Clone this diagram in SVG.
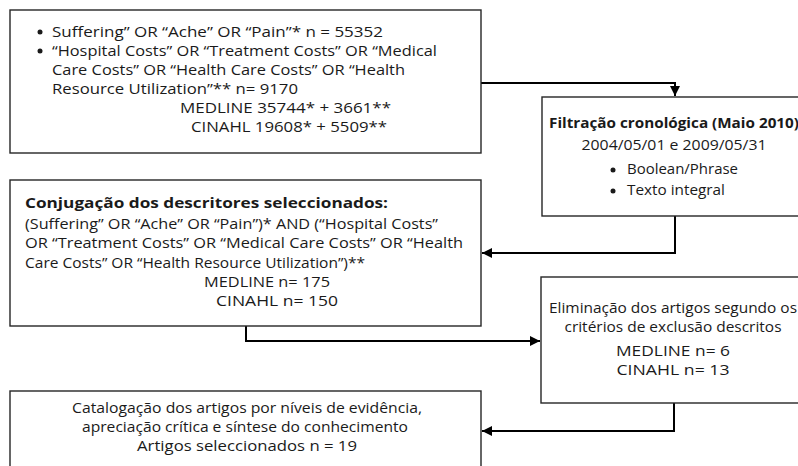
<svg xmlns="http://www.w3.org/2000/svg" width="798" height="466" viewBox="0 0 798 466">
<style>
  .box { fill: #ffffff; stroke: #262626; stroke-width: 1.4; }
  .t { font-family: "Open Sans", "Liberation Sans", sans-serif; font-size: 15px; fill: #1a1a1a; }
  .b { font-weight: bold; }
  .m { text-anchor: middle; }
  .conn { fill: none; stroke: #000000; stroke-width: 2; }
  .dot { fill: #1a1a1a; }
</style>
<defs>
  <marker id="arr" markerUnits="userSpaceOnUse" markerWidth="11" markerHeight="10" refX="10" refY="5" orient="auto">
    <path d="M0,0 L10,5 L0,10 z" fill="#000000"/>
  </marker>
</defs>
<rect x="0" y="0" width="798" height="466" fill="#ffffff"/>

<g id="connectors">
  <polyline class="conn" points="481,83 675,83 675,96" marker-end="url(#arr)"/>
  <polyline class="conn" points="675,216 675,253 482,253" marker-end="url(#arr)"/>
  <polyline class="conn" points="246,326 246,341 540,341" marker-end="url(#arr)"/>
  <polyline class="conn" points="674,403 674,431 482,431" marker-end="url(#arr)"/>
</g>

<g id="node-search">
  <rect class="box" x="10" y="10" width="471" height="143"/>
  <circle class="dot" cx="40" cy="32" r="2.5"/>
  <circle class="dot" cx="40" cy="51" r="2.5"/>
  <text class="t" x="52" y="37" textLength="331" lengthAdjust="spacingAndGlyphs">Suffering” OR “Ache” OR “Pain”* n = 55352</text>
  <text class="t" x="52" y="56" textLength="385" lengthAdjust="spacingAndGlyphs">“Hospital Costs” OR “Treatment Costs” OR “Medical</text>
  <text class="t" x="52" y="75" textLength="353" lengthAdjust="spacingAndGlyphs">Care Costs” OR “Health Care Costs” OR “Health</text>
  <text class="t" x="52" y="94" textLength="246" lengthAdjust="spacingAndGlyphs">Resource Utilization”** n= 9170</text>
  <text class="t" x="180" y="113" textLength="211" lengthAdjust="spacingAndGlyphs">MEDLINE 35744* + 3661**</text>
  <text class="t" x="191" y="132" textLength="196" lengthAdjust="spacingAndGlyphs">CINAHL 19608* + 5509**</text>
</g>

<g id="node-filter">
  <rect class="box" x="542" y="97" width="300" height="119"/>
  <text class="t b m" x="674" y="128" textLength="250" lengthAdjust="spacingAndGlyphs">Filtração cronológica (Maio 2010)</text>
  <text class="t m" x="674" y="150" textLength="185" lengthAdjust="spacingAndGlyphs">2004/05/01 e 2009/05/31</text>
  <circle class="dot" cx="613" cy="170" r="2.5"/>
  <circle class="dot" cx="613" cy="191" r="2.5"/>
  <text class="t" x="627" y="174" textLength="111" lengthAdjust="spacingAndGlyphs">Boolean/Phrase</text>
  <text class="t" x="627" y="195" textLength="98" lengthAdjust="spacingAndGlyphs">Texto integral</text>
</g>

<g id="node-conjugation">
  <rect class="box" x="10" y="180" width="471" height="146"/>
  <text class="t b" x="25" y="208" textLength="363" lengthAdjust="spacingAndGlyphs">Conjugação dos descritores seleccionados:</text>
  <text class="t" x="25" y="229" textLength="413" lengthAdjust="spacingAndGlyphs">(Suffering” OR “Ache” OR “Pain”)* AND (“Hospital Costs”</text>
  <text class="t" x="25" y="248" textLength="438" lengthAdjust="spacingAndGlyphs">OR “Treatment Costs” OR “Medical Care Costs” OR “Health</text>
  <text class="t" x="25" y="268" textLength="340" lengthAdjust="spacingAndGlyphs">Care Costs” OR “Health Resource Utilization”)**</text>
  <text class="t" x="204" y="287" textLength="126" lengthAdjust="spacingAndGlyphs">MEDLINE n= 175</text>
  <text class="t" x="216" y="306" textLength="122" lengthAdjust="spacingAndGlyphs">CINAHL n= 150</text>
</g>

<g id="node-elimination">
  <rect class="box" x="541" y="277" width="300" height="126"/>
  <text class="t m" x="673" y="313" textLength="248" lengthAdjust="spacingAndGlyphs">Eliminação dos artigos segundo os</text>
  <text class="t m" x="673" y="332" textLength="217" lengthAdjust="spacingAndGlyphs">critérios de exclusão descritos</text>
  <text class="t m" x="673" y="356" textLength="114" lengthAdjust="spacingAndGlyphs">MEDLINE n= 6</text>
  <text class="t m" x="673" y="375" textLength="113" lengthAdjust="spacingAndGlyphs">CINAHL n= 13</text>
</g>

<g id="node-catalog">
  <rect class="box" x="10" y="391" width="471" height="100"/>
  <text class="t" x="72" y="413" textLength="350" lengthAdjust="spacingAndGlyphs">Catalogação dos artigos por níveis de evidência,</text>
  <text class="t" x="82" y="432" textLength="326" lengthAdjust="spacingAndGlyphs">apreciação crítica e síntese do conhecimento</text>
  <text class="t" x="137" y="451" textLength="220" lengthAdjust="spacingAndGlyphs">Artigos seleccionados n = 19</text>
</g>
</svg>
